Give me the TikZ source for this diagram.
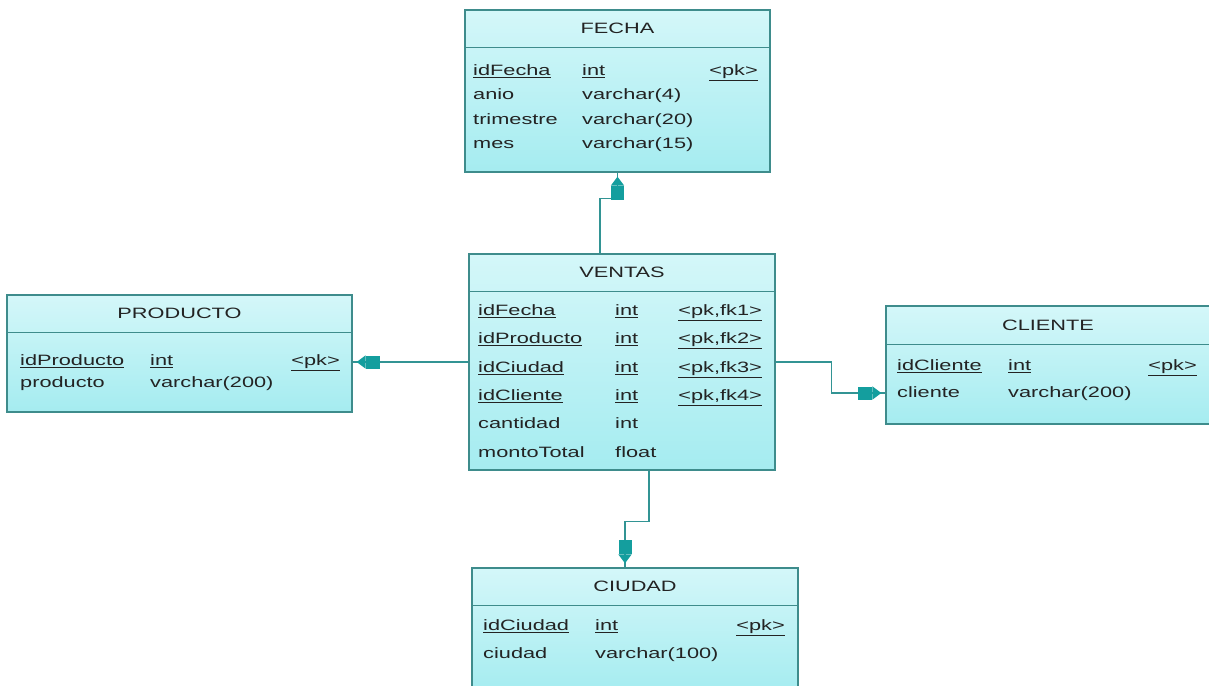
\documentclass[tikz,border=0pt]{standalone}
\usepackage{fontspec}
\setmainfont{Liberation Sans}[FakeStretch=1.45]
\usetikzlibrary{arrows.meta}

\definecolor{entborder}{RGB}{62,140,140}
\definecolor{enttop}{RGB}{212,247,249}
\definecolor{entbottom}{RGB}{165,236,240}
\definecolor{reltip}{RGB}{20,158,158}
\definecolor{relline}{RGB}{50,148,148}
\definecolor{enttext}{RGB}{35,35,35}

\begin{document}
\begin{tikzpicture}[
  x=1pt,
  y=-1pt,
  every node/.style={font=\fontsize{15}{18}\selectfont, text=enttext},
  entity/.style 2 args={
    draw=entborder,
    line width=1.3pt,
    top color=enttop,
    bottom color=entbottom,
    inner sep=0pt,
    minimum width=#1,
    minimum height=#2
  },
  divider/.style={draw=entborder, line width=1.3pt},
  etitle/.style={inner sep=0pt, text height=11pt, text depth=0pt},
  cell/.style={anchor=west, inner sep=0pt, text height=11pt, text depth=0pt},
  cellr/.style={cell, anchor=east},
  fk/.style={
    draw=relline,
    line width=1.5pt,
    postaction={draw=relline, shorten >=4pt,
      -{Rectangle[length=14pt,width=13pt,color=reltip]Triangle[length=9pt,width=13pt,color=reltip]}}
  }
]
\clip (0,0) rectangle (1209,685);
\fill[white] (0,0) rectangle (1209,685);

% tables
\node[entity={305pt}{162pt}] (fecha) at (617.5,91) {};
\node[entity={306pt}{216pt}] (ventas) at (622,362) {};
\node[entity={345pt}{117pt}] (producto) at (179.5,353.5) {};
\node[entity={324pt}{118pt}] (cliente) at (1048,365) {};
\node[entity={326pt}{124pt}] (ciudad) at (635,630) {};

\draw[divider] ([yshift=-38pt]fecha.north west) -- ([yshift=-38pt]fecha.north east);
\draw[divider] ([yshift=-38pt]ventas.north west) -- ([yshift=-38pt]ventas.north east);
\draw[divider] ([yshift=-38pt]producto.north west) -- ([yshift=-38pt]producto.north east);
\draw[divider] ([yshift=-39pt]cliente.north west) -- ([yshift=-39pt]cliente.north east);
\draw[divider] ([yshift=-38pt]ciudad.north west) -- ([yshift=-38pt]ciudad.north east);

\node[etitle] (fecha-title) at ([yshift=-19pt]fecha.north) {FECHA};
\node[etitle] (ventas-title) at ([yshift=-19pt]ventas.north) {VENTAS};
\node[etitle] (producto-title) at ([yshift=-19pt]producto.north) {PRODUCTO};
\node[etitle] (cliente-title) at ([yshift=-19.5pt]cliente.north) {CLIENTE};
\node[etitle] (ciudad-title) at ([yshift=-19pt]ciudad.north) {CIUDAD};

% FECHA
\node[cell] (fecha-1a) at (473,70) {\underline{idFecha}};
\node[cell] (fecha-1b) at (582,70) {\underline{int}};
\node[cellr] (fecha-1c) at (758,70) {\underline{<pk>}};
\node[cell] (fecha-2a) at (473,94) {anio};
\node[cell] (fecha-2b) at (582,94) {varchar(4)};
\node[cell] (fecha-3a) at (473,119) {trimestre};
\node[cell] (fecha-3b) at (582,119) {varchar(20)};
\node[cell] (fecha-4a) at (473,143) {mes};
\node[cell] (fecha-4b) at (582,143) {varchar(15)};

% VENTAS
\node[cell] (ventas-1a) at (478,310) {\underline{idFecha}};
\node[cell] (ventas-1b) at (615,310) {\underline{int}};
\node[cellr] (ventas-1c) at (762,310) {\underline{<pk,fk1>}};
\node[cell] (ventas-2a) at (478,338) {\underline{idProducto}};
\node[cell] (ventas-2b) at (615,338) {\underline{int}};
\node[cellr] (ventas-2c) at (762,338) {\underline{<pk,fk2>}};
\node[cell] (ventas-3a) at (478,367) {\underline{idCiudad}};
\node[cell] (ventas-3b) at (615,367) {\underline{int}};
\node[cellr] (ventas-3c) at (762,367) {\underline{<pk,fk3>}};
\node[cell] (ventas-4a) at (478,395) {\underline{idCliente}};
\node[cell] (ventas-4b) at (615,395) {\underline{int}};
\node[cellr] (ventas-4c) at (762,395) {\underline{<pk,fk4>}};
\node[cell] (ventas-5a) at (478,423) {cantidad};
\node[cell] (ventas-5b) at (615,423) {int};
\node[cell] (ventas-6a) at (478,452) {montoTotal};
\node[cell] (ventas-6b) at (615,452) {float};

% PRODUCTO
\node[cell] (producto-1a) at (20,360) {\underline{idProducto}};
\node[cell] (producto-1b) at (150,360) {\underline{int}};
\node[cellr] (producto-1c) at (340,360) {\underline{<pk>}};
\node[cell] (producto-2a) at (20,382) {producto};
\node[cell] (producto-2b) at (150,382) {varchar(200)};

% CLIENTE
\node[cell] (cliente-1a) at (897,365) {\underline{idCliente}};
\node[cell] (cliente-1b) at (1008,365) {\underline{int}};
\node[cellr] (cliente-1c) at (1197,365) {\underline{<pk>}};
\node[cell] (cliente-2a) at (897,392) {cliente};
\node[cell] (cliente-2b) at (1008,392) {varchar(200)};

% CIUDAD
\node[cell] (ciudad-1a) at (483,625) {\underline{idCiudad}};
\node[cell] (ciudad-1b) at (595,625) {\underline{int}};
\node[cellr] (ciudad-1c) at (785,625) {\underline{<pk>}};
\node[cell] (ciudad-2a) at (483,653) {ciudad};
\node[cell] (ciudad-2b) at (595,653) {varchar(100)};

% references
\draw[fk] ([xshift=-22pt]ventas.north) -- ++(0,-55) -| (fecha.south);
\draw[fk] (ventas.west) -- (ventas.west -| producto.east);
\draw[fk] (ventas.east) -- ++(56,0) |- ([yshift=-28pt]cliente.west);
\draw[fk] ([xshift=27pt]ventas.south) -- ++(0,51) -| ([xshift=-10pt]ciudad.north);
\end{tikzpicture}
\end{document}
